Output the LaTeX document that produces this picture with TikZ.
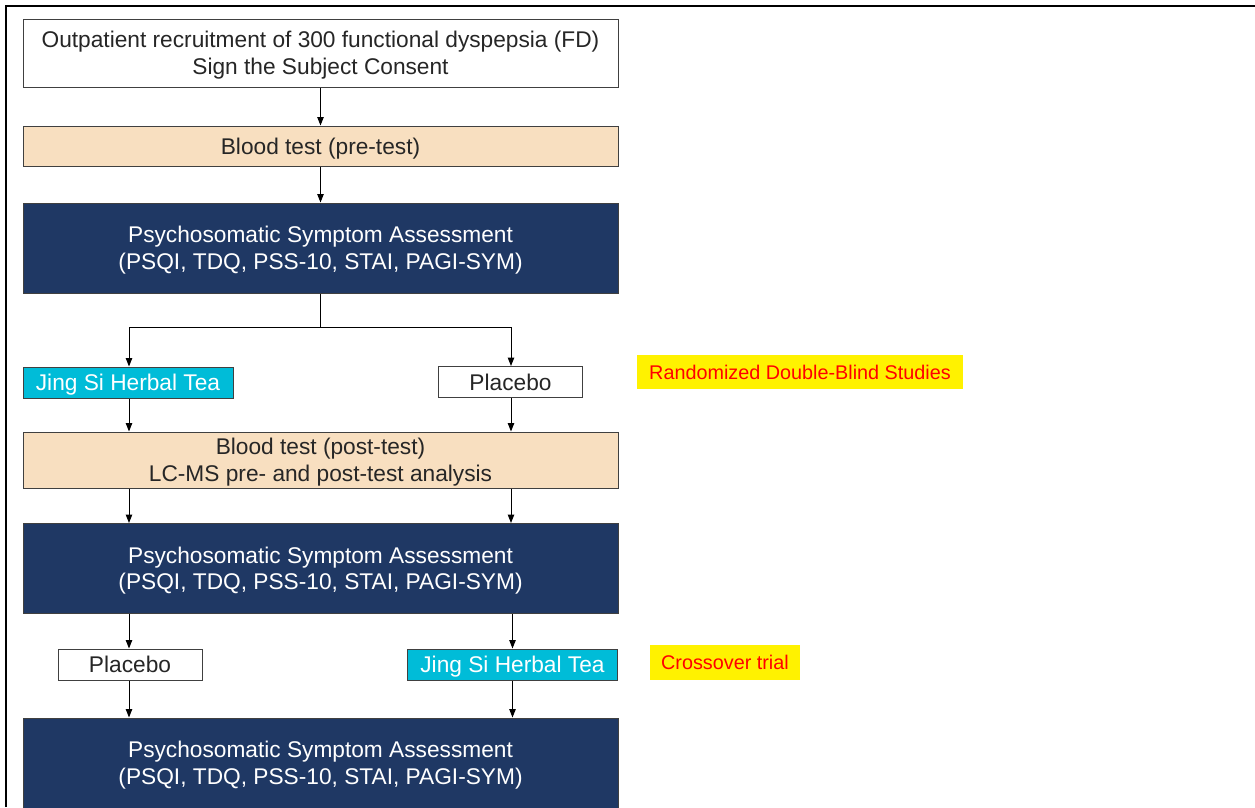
\documentclass[tikz,border=0pt]{standalone}
\usepackage{fontspec}
\setmainfont{Liberation Sans}
\usetikzlibrary{arrows.meta}
\definecolor{navy}{HTML}{1F3864}
\definecolor{tan}{HTML}{F8DFC0}
\definecolor{teacyan}{HTML}{00BCD8}
\definecolor{edge}{HTML}{404040}
\definecolor{ink}{HTML}{262626}

\begin{document}
\begin{tikzpicture}[x=1pt,y=-1pt,
  box/.style = {draw=edge,line width=1pt,inner sep=0pt,align=center,text=ink,text depth=0pt,
                font=\fontsize{22.7}{26.5}\selectfont},
  wide/.style = {box,minimum width=595pt},
  assess/.style = {wide,fill=navy,text=white,minimum height=90pt},
  blood/.style = {wide,fill=tan},
  tea/.style = {box,fill=teacyan,text=white,minimum width=210pt,minimum height=31pt},
  placebo/.style = {box,fill=white,minimum width=144pt,minimum height=31pt},
  tag/.style = {fill=yellow,text=red,inner sep=0pt,text depth=0pt,font=\fontsize{19.8}{24}\selectfont},
  arr/.style = {-{Triangle[width=6.5pt,length=8.5pt]},line width=1pt,black}]
\useasboundingbox (0,0) rectangle (1255,807);
\draw[line width=2.2pt] (6,807) -- (6,6) -- (1255,6);

\node[wide,fill=white,minimum height=68pt] (rec) at (320.5,53)
  {Outpatient recruitment of 300 functional dyspepsia (FD)\\Sign the Subject Consent};
\node[blood,minimum height=40pt] (pre) at (320.5,146) {Blood test (pre-test)};
\node[assess] (psa1) at (320.5,248)
  {Psychosomatic Symptom Assessment\\(PSQI, TDQ, PSS-10, STAI, PAGI-SYM)};
\node[tea] (tea1) at (128,382.5) {Jing Si Herbal Tea};
\node[placebo] (plc1) at (510.5,382) {Placebo};
\node[tag,minimum width=326pt,minimum height=34pt] (rds) at (800,372) {Randomized Double-Blind Studies};
\node[blood,minimum height=56pt] (post) at (320.5,460)
  {Blood test (post-test)\\LC-MS pre- and post-test analysis};
\node[assess] (psa2) at (320.5,568.5)
  {Psychosomatic Symptom Assessment\\(PSQI, TDQ, PSS-10, STAI, PAGI-SYM)};
\node[placebo] (plc2) at (130,664.5) {Placebo};
\node[tea] (tea2) at (512.5,664.5) {Jing Si Herbal Tea};
\node[tag,minimum width=150pt,minimum height=35pt] (cot) at (725,662.5) {Crossover trial};
\node[assess] (psa3) at (320.5,763)
  {Psychosomatic Symptom Assessment\\(PSQI, TDQ, PSS-10, STAI, PAGI-SYM)};

\coordinate (split) at (320.5,327);
\coordinate (lane1) at (129,0);
\coordinate (lane2) at (511,0);

\draw[arr] (rec) -- (pre);
\draw[arr] (pre) -- (psa1);
\draw[line width=1pt] (psa1.south) -- (split);
\draw[arr] (split) -| (lane1 |- tea1.north);
\draw[arr] (split) -| (lane2 |- plc1.north);
\draw[arr] (lane1 |- tea1.south) -- (lane1 |- post.north);
\draw[arr] (lane2 |- plc1.south) -- (lane2 |- post.north);
\draw[arr] (lane1 |- post.south) -- (lane1 |- psa2.north);
\draw[arr] (lane2 |- post.south) -- (lane2 |- psa2.north);
\draw[arr] (lane1 |- psa2.south) -- (lane1 |- plc2.north);
\draw[arr] (tea2 |- psa2.south) -- (tea2.north);
\draw[arr] (lane1 |- plc2.south) -- (lane1 |- psa3.north);
\draw[arr] (tea2.south) -- (tea2 |- psa3.north);
\end{tikzpicture}
\end{document}
